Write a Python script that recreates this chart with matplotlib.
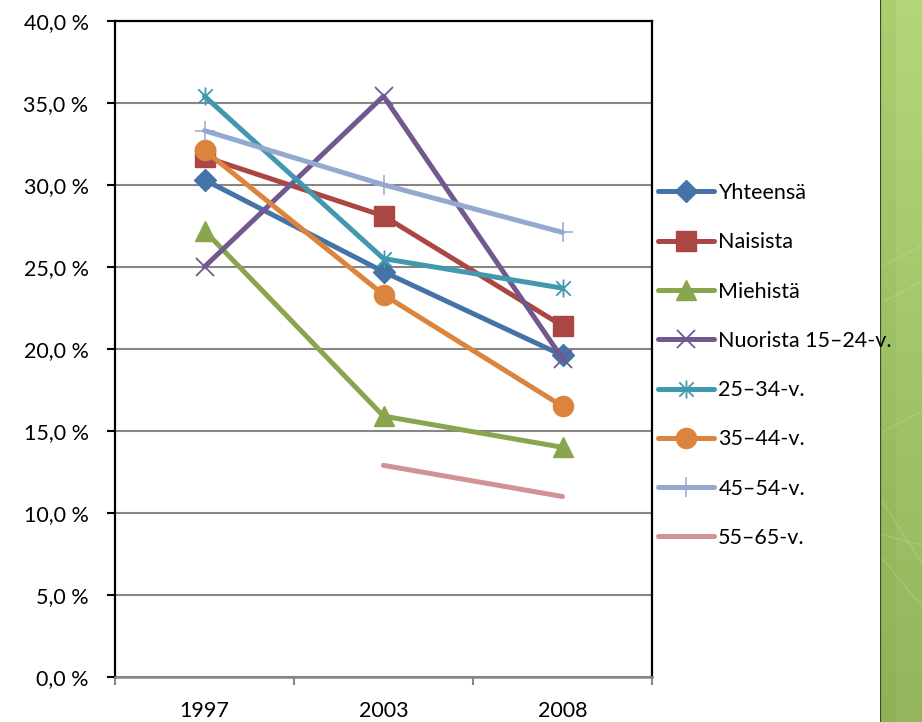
import numpy as np
import matplotlib
matplotlib.use("Agg")
import matplotlib.pyplot as plt
from matplotlib.path import Path
from matplotlib.ticker import FixedLocator, NullFormatter, FuncFormatter
from matplotlib.lines import Line2D

# ---- data ----
years = ["1997", "2003", "2008"]
yhteensa = [30.3, 24.7, 19.6]
naisista = [31.7, 28.1, 21.4]
miehista = [27.2, 15.9, 14.0]
nuorista = [25.0, 35.4, 19.4]
v25_34 = [35.4, 25.5, 23.7]
v35_44 = [32.1, 23.3, 16.5]
v45_54 = [33.3, 30.0, 27.1]
v55_65 = [np.nan, 12.9, 11.0]

labels = ["Yhteensä", "Naisista", "Miehistä", "Nuorista 15–24-v.",
          "25–34-v.", "35–44-v.", "45–54-v.", "55–65-v."]

plt.rcParams['font.family'] = ['Lato', 'DejaVu Sans']

# asterisk marker: vertical line + X
star = Path([(0, -1), (0, 1), (-0.8, -0.8), (0.8, 0.8), (-0.8, 0.8), (0.8, -0.8)],
            [Path.MOVETO, Path.LINETO, Path.MOVETO, Path.LINETO, Path.MOVETO, Path.LINETO])

series = [
    (yhteensa, "#4572A7", "D", 11, 1.0),
    (naisista, "#AA4643", "s", 14, 1.0),
    (miehista, "#89A54E", "^", 14, 1.0),
    (nuorista, "#71588F", "x", 13, 1.3),
    (v25_34, "#4198AF", star, 13, 1.3),
    (v35_44, "#DB843D", "o", 14.5, 1.0),
    (v45_54, "#93A9CF", "+", 14, 1.1),
    (v55_65, "#D19392", None, 0, 1.0),
]

fig = plt.figure(figsize=(9.22, 7.22), dpi=100)
W, H = 922, 722

# green decorative panel on the right
pax = fig.add_axes([880 / W, 0, 42 / W, 1])
pax.set_xlim(0, 1)
pax.set_ylim(0, 1)
grad = np.linspace(0, 1, 256)[:, None]
top = np.array([0.70, 0.84, 0.47])
bot = np.array([0.58, 0.71, 0.36])
img = top[None, None, :] * (1 - grad[..., None]) + bot[None, None, :] * grad[..., None]
img = np.repeat(img, 2, axis=1)
pax.imshow(img, extent=[0, 1, 0, 1], aspect='auto', origin='upper')
pax.axvspan(0, 0.38, color="#7a9a3a", alpha=0.12, lw=0)
for (y0, y1) in [(0.40, 0.43), (0.58, 0.61), (0.63, 0.66), (0.26, 0.245)]:
    pax.plot([0, 1], [y0, y1], color="white", alpha=0.14, lw=1)
pax.plot([0, 1], [0.23, 0.16], color="white", alpha=0.12, lw=1.2)
pax.plot([0, 1], [0.31, 0.22], color="white", alpha=0.12, lw=1.2)
pax.axvline(0.01, color="#3d4a30", lw=1.6)
pax.axis('off')

ax = fig.add_axes([115 / W, (H - 677) / H, (652 - 115) / W, (677 - 20.7) / H])
x = np.arange(len(years))
handles = []
for (vals, col, mk, ms, mew), lab in zip(series, labels):
    kw = dict(color=col, lw=3.6, solid_capstyle='round', solid_joinstyle='round', zorder=3)
    if mk is not None:
        kw.update(marker=mk, markersize=ms, markerfacecolor=col, markeredgecolor=col,
                  markeredgewidth=mew)
    ax.plot(x, vals, **kw)
    handles.append(Line2D([], [], label=lab, **kw))

ax.set_xlim(-0.5, 2.5)
ax.set_ylim(0, 40)
ax.set_yticks(np.arange(0, 41, 5))
ax.yaxis.set_major_formatter(FuncFormatter(lambda v, p: f"{v:.1f}".replace(".", ",") + " %"))
ax.grid(axis='y', color="#868686", lw=1.5, zorder=0)
ax.set_axisbelow(True)

ax.xaxis.set_major_locator(FixedLocator([-0.5, 0.5, 1.5, 2.5]))
ax.xaxis.set_major_formatter(NullFormatter())
ax.xaxis.set_minor_locator(FixedLocator(x))
ax.set_xticklabels(years, minor=True)
ax.tick_params(axis='x', which='major', direction='out', length=6, width=1.5, color="#868686")
ax.tick_params(axis='x', which='minor', length=0, pad=17, labelsize=15.5)
ax.tick_params(axis='y', direction='out', length=6, width=1.5, color="black", pad=13, labelsize=15.5)

for s in ['left', 'right', 'top']:
    ax.spines[s].set_color('black')
    ax.spines[s].set_linewidth(1.6)
ax.spines['bottom'].set_color('#868686')
ax.spines['bottom'].set_linewidth(1.8)

fig.legend(handles=handles, loc='upper left', bbox_to_anchor=(658 / W, 1 - 183 / H),
           frameon=False, fontsize=15.5, handlelength=2.6, handletextpad=0.2,
           labelspacing=1.36, borderpad=0, borderaxespad=0)

fig.savefig("out.png", dpi=100, facecolor="white")
